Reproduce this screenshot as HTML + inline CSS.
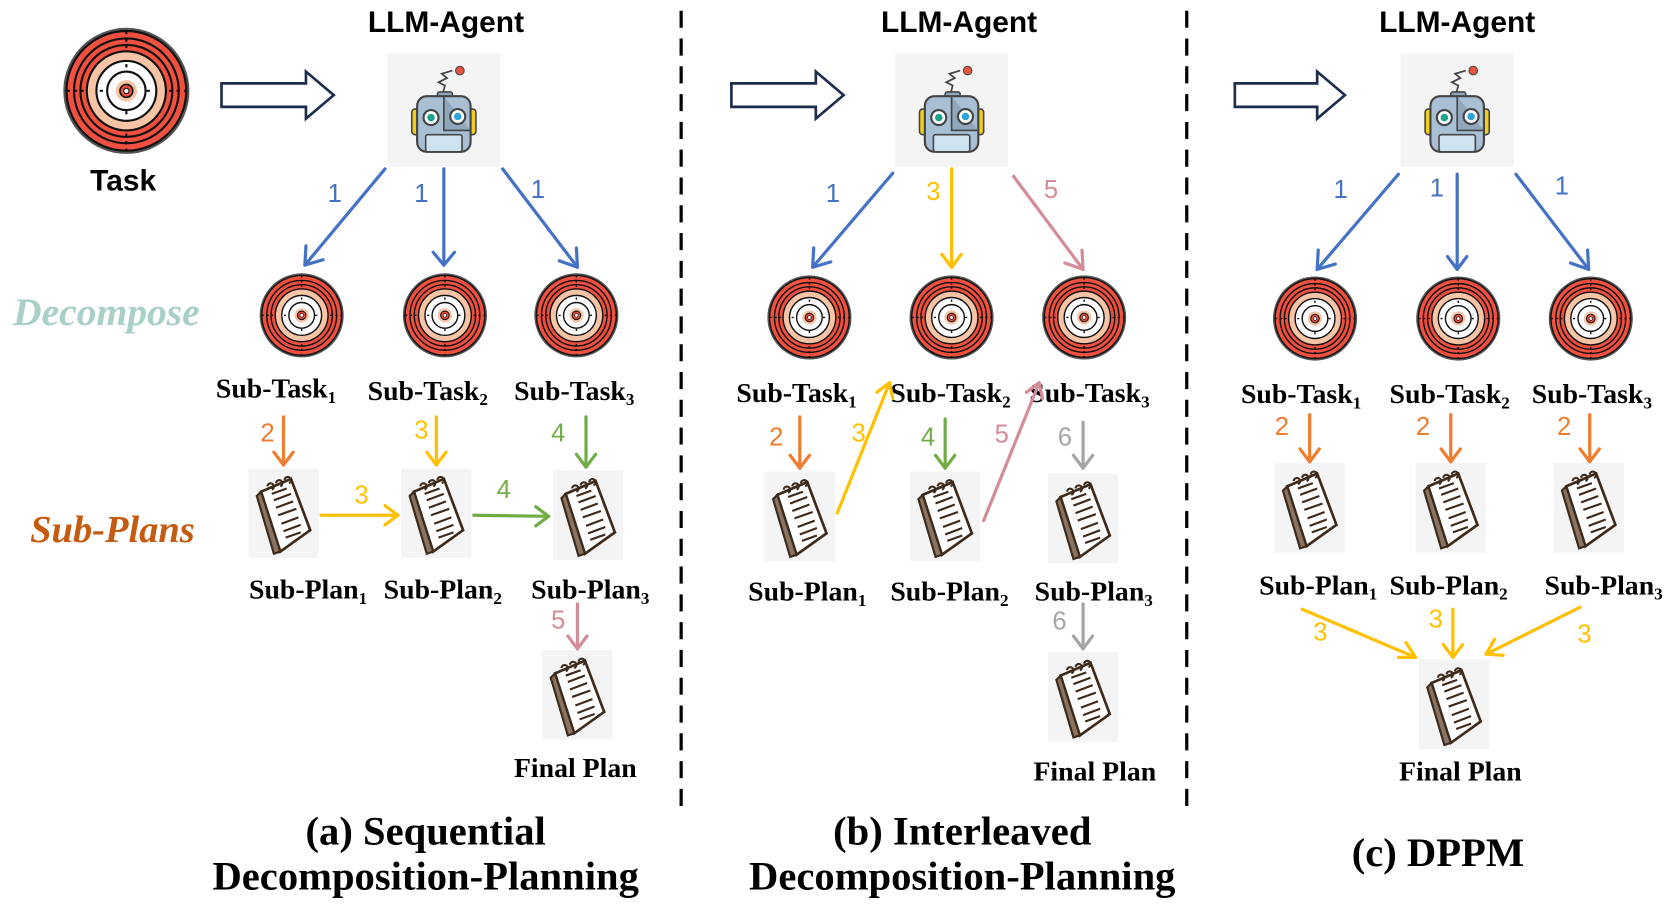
<!DOCTYPE html>
<html><head><meta charset="utf-8"><style>
html,body{margin:0;padding:0;background:#fff;}
svg{display:block;}
.sub{font-family:"Liberation Serif",serif;font-weight:bold;font-size:26px;fill:#000;text-anchor:middle;}
.num{font-family:"Liberation Sans",sans-serif;font-size:24px;text-anchor:middle;}
.hdr{font-family:"Liberation Sans",sans-serif;font-weight:bold;font-size:28px;text-anchor:middle;fill:#000;}
.ttl{font-family:"Liberation Serif",serif;font-weight:bold;font-size:38px;text-anchor:middle;fill:#000;}
</style></head><body>
<svg width="1668" height="915" viewBox="0 0 1560 856" xmlns="http://www.w3.org/2000/svg">
<defs>
<symbol id="tg" viewBox="-60 -60 120 120">
<circle r="59" fill="#555"/>
<circle r="56" fill="#f0503f" stroke="#111" stroke-width="2"/>
<circle r="49" fill="none" stroke="#111" stroke-width="2"/>
<circle r="43" fill="none" stroke="#111" stroke-width="2"/>
<circle r="37" fill="#f7c4a5" stroke="#111" stroke-width="2"/>
<circle r="28" fill="#fff" stroke="#111" stroke-width="2"/>
<circle r="18" fill="#fff" stroke="#111" stroke-width="2"/>
<circle r="10" fill="#f7c4a5"/>
<circle r="6" fill="#f0503f" stroke="#111" stroke-width="1.5"/>
<circle r="2.5" fill="#fff" stroke="#111" stroke-width="1"/>
<path d="M0 -56V-40M0 40V56M-56 0H-40M40 0H56M0 -25v6M0 19v6M-25 0h6M19 0h6" stroke="#111" stroke-width="2" stroke-dasharray="3 4"/>
</symbol>
<symbol id="np" viewBox="0 0 66 84">
<rect width="66" height="84" fill="#f4f4f4"/>
<path d="M12 22 L40 10 L58 58 L30 78 Z" fill="#fff" stroke="#3d2a1a" stroke-width="2.5"/>
<path d="M8 26 L12 22 L30 78 L24 80 Z" fill="#8a7360" stroke="#3d2a1a" stroke-width="2"/>
<path d="M22 24l14-5M24 30l16-6M26 37l16-6M28 44l17-6M31 52l16-6M33 59l16-6M35 65l14-5" stroke="#3d2a1a" stroke-width="2"/>
<path d="M18 17a3 3 0 1 1 4 3M26 14a3 3 0 1 1 4 3M34 11a3 3 0 1 1 4 3" fill="none" stroke="#3d2a1a" stroke-width="2"/>
</symbol>
<symbol id="rb" viewBox="0 0 106 106">
<rect width="106" height="106" fill="#f4f4f4"/>
<path d="M52 38 l2-8 -6-3 8-4 -5-4 10-3" fill="none" stroke="#444" stroke-width="1.6"/>
<circle cx="68" cy="16" r="4" fill="#e8553f" stroke="#444"/>
<rect x="47" y="36" width="14" height="6" rx="2" fill="#8fa6bb" stroke="#444" stroke-width="1.5"/>
<rect x="23" y="52" width="8" height="24" rx="3" fill="#f2cf1f" stroke="#444" stroke-width="1.5"/>
<rect x="75" y="52" width="8" height="24" rx="3" fill="#f2cf1f" stroke="#444" stroke-width="1.5"/>
<rect x="28" y="40" width="50" height="52" rx="9" fill="#a8bfd4" stroke="#444" stroke-width="2"/>
<path d="M53 40 V72 H78" fill="#8fa6bb" stroke="#444" stroke-width="1.5"/>
<circle cx="41" cy="60" r="7" fill="#fff" stroke="#444" stroke-width="2"/><circle cx="41" cy="60" r="3.5" fill="#1ba38c"/>
<circle cx="66" cy="59" r="7" fill="#fff" stroke="#444" stroke-width="2"/><circle cx="66" cy="59" r="3.5" fill="#2ea3d8"/>
<rect x="36" y="76" width="34" height="16" rx="2" fill="#cfe2ef" stroke="#444" stroke-width="1.5"/>
</symbol>
</defs>
<style>
.a{stroke-width:3;fill:none;}
.bl{stroke:#4472c4}.or{stroke:#ed7d31}.ye{stroke:#ffc000}.gr{stroke:#70ad47}.pk{stroke:#d48c98}.gy{stroke:#a5a5a5}
</style>
<g id="all">
<line x1="637" y1="10" x2="637" y2="762" stroke="#000" stroke-width="3" stroke-dasharray="16 10"/>
<line x1="1110" y1="10" x2="1110" y2="762" stroke="#000" stroke-width="3" stroke-dasharray="16 10"/>

<!-- Panel A -->
<use href="#tg" x="58" y="25" width="120" height="120"/>
<text class="hdr" x="115" y="178">Task</text>
<path d="M207 78H286V67L312 89L286 111V100H207Z" fill="#fff" stroke="#1f2d4d" stroke-width="2.5"/>
<text class="hdr" x="417" y="30">LLM-Agent</text>
<use href="#rb" x="362" y="50" width="106" height="106"/>
<text class="ttl" x="398" y="790">(a) Sequential</text>
<text class="ttl" x="398" y="832">Decomposition-Planning</text>
<text x="12" y="304" font-family="Liberation Serif,serif" font-style="italic" font-weight="bold" font-size="37" fill="#a8cfc8">Decompose</text>
<text x="28" y="507" font-family="Liberation Serif,serif" font-style="italic" font-weight="bold" font-size="36" fill="#c55a11">Sub-Plans</text>
<use href="#tg" x="242" y="255" width="80" height="80"/>
<use href="#tg" x="376" y="255" width="80" height="80"/>
<use href="#tg" x="499" y="255" width="80" height="80"/>
<text class="sub" x="258" y="372">Sub-Task<tspan font-size="16" dy="5">1</tspan></text>
<text class="sub" x="400" y="374">Sub-Task<tspan font-size="16" dy="5">2</tspan></text>
<text class="sub" x="537" y="374">Sub-Task<tspan font-size="16" dy="5">3</tspan></text>
<use href="#np" x="232" y="438" width="66" height="84"/>
<use href="#np" x="375" y="438" width="66" height="84"/>
<use href="#np" x="517" y="440" width="66" height="84"/>
<use href="#np" x="507" y="608" width="66" height="84"/>
<text class="sub" x="288" y="560">Sub-Plan<tspan font-size="16" dy="5">1</tspan></text>
<text class="sub" x="414" y="560">Sub-Plan<tspan font-size="16" dy="5">2</tspan></text>
<text class="sub" x="552" y="560">Sub-Plan<tspan font-size="16" dy="5">3</tspan></text>
<text class="sub" x="538" y="727">Final Plan</text>

<!-- Panel B -->
<path d="M684 78H763V67L789 89L763 111V100H684Z" fill="#fff" stroke="#1f2d4d" stroke-width="2.5"/>
<text class="hdr" x="897" y="30">LLM-Agent</text>
<use href="#rb" x="837" y="50" width="106" height="106"/>
<text class="ttl" x="900" y="790">(b) Interleaved</text>
<text class="ttl" x="900" y="832">Decomposition-Planning</text>
<use href="#tg" x="717" y="257" width="80" height="80"/>
<use href="#tg" x="850" y="257" width="80" height="80"/>
<use href="#tg" x="974" y="257" width="80" height="80"/>
<text class="sub" x="745" y="376">Sub-Task<tspan font-size="16" dy="5">1</tspan></text>
<text class="sub" x="889" y="376">Sub-Task<tspan font-size="16" dy="5">2</tspan></text>
<text class="sub" x="1019" y="376">Sub-Task<tspan font-size="16" dy="5">3</tspan></text>
<use href="#np" x="715" y="441" width="66" height="84"/>
<use href="#np" x="851" y="441" width="66" height="84"/>
<use href="#np" x="980" y="443" width="66" height="84"/>
<use href="#np" x="980" y="610" width="66" height="84"/>
<text class="sub" x="755" y="562">Sub-Plan<tspan font-size="16" dy="5">1</tspan></text>
<text class="sub" x="888" y="562">Sub-Plan<tspan font-size="16" dy="5">2</tspan></text>
<text class="sub" x="1023" y="562">Sub-Plan<tspan font-size="16" dy="5">3</tspan></text>
<text class="sub" x="1024" y="730">Final Plan</text>

<!-- Panel C -->
<path d="M1155 78H1232V67L1258 89L1232 111V100H1155Z" fill="#fff" stroke="#1f2d4d" stroke-width="2.5"/>
<text class="hdr" x="1363" y="30">LLM-Agent</text>
<use href="#rb" x="1310" y="50" width="106" height="106"/>
<text class="ttl" x="1345" y="810">(c) DPPM</text>
<use href="#tg" x="1190" y="258" width="80" height="80"/>
<use href="#tg" x="1324" y="258" width="80" height="80"/>
<use href="#tg" x="1448" y="258" width="80" height="80"/>
<text class="sub" x="1217" y="377">Sub-Task<tspan font-size="16" dy="5">1</tspan></text>
<text class="sub" x="1356" y="377">Sub-Task<tspan font-size="16" dy="5">2</tspan></text>
<text class="sub" x="1489" y="377">Sub-Task<tspan font-size="16" dy="5">3</tspan></text>
<use href="#np" x="1192" y="433" width="66" height="84"/>
<use href="#np" x="1324" y="433" width="66" height="84"/>
<use href="#np" x="1453" y="433" width="66" height="84"/>
<use href="#np" x="1327" y="617" width="66" height="84"/>
<text class="sub" x="1233" y="556">Sub-Plan<tspan font-size="16" dy="5">1</tspan></text>
<text class="sub" x="1355" y="556">Sub-Plan<tspan font-size="16" dy="5">2</tspan></text>
<text class="sub" x="1500" y="556">Sub-Plan<tspan font-size="16" dy="5">3</tspan></text>
<text class="sub" x="1366" y="730">Final Plan</text>
</g>

<g class="a" stroke-linecap="round" stroke-linejoin="round">
<g class="a bl"><path d="M360 158L285 248"/><path d="M286 230L285 248L302 243"/>
<path d="M415 158V248"/><path d="M405 236L415 248L425 236"/>
<path d="M470 158L540 250"/><path d="M523 244L540 250L539 232"/></g>
<g class="a or"><path d="M265 390V435"/><path d="M256 423L265 435L274 423"/></g>
<g class="a ye"><path d="M408 390V435"/><path d="M399 423L408 435L417 423"/>
<path d="M300 482H372"/><path d="M360 473L372 482L360 491"/></g>
<g class="a gr"><path d="M548 390V437"/><path d="M539 425L548 437L557 425"/>
<path d="M443 482L513 483"/><path d="M501 474L513 483L501 492"/></g>
<g class="a pk"><path d="M540 565V607"/><path d="M531 595L540 607L549 595"/></g>
<g class="a bl"><path d="M835 162L760 250"/><path d="M761 232L760 250L777 245"/></g>
<g class="a ye"><path d="M890 158V250"/><path d="M881 238L890 250L899 238"/>
<path d="M783 480L832 358"/><path d="M820 367L832 358L835 373"/></g>
<g class="a pk"><path d="M948 165L1013 252"/><path d="M996 246L1013 252L1012 234"/>
<path d="M920 487L972 358"/><path d="M960 367L972 358L975 373"/></g>
<g class="a or"><path d="M748 390V438"/><path d="M739 426L748 438L757 426"/></g>
<g class="a gr"><path d="M884 392V438"/><path d="M875 426L884 438L893 426"/></g>
<g class="a gy"><path d="M1013 395V438"/><path d="M1004 426L1013 438L1022 426"/>
<path d="M1013 565V607"/><path d="M1004 595L1013 607L1022 595"/></g>
<g class="a bl"><path d="M1308 163L1232 252"/><path d="M1233 234L1232 252L1249 247"/>
<path d="M1363 163V252"/><path d="M1354 240L1363 252L1372 240"/>
<path d="M1418 163L1486 252"/><path d="M1469 246L1486 252L1485 234"/></g>
<g class="a or"><path d="M1225 388V432"/><path d="M1216 420L1225 432L1234 420"/>
<path d="M1357 388V432"/><path d="M1348 420L1357 432L1366 420"/>
<path d="M1487 388V432"/><path d="M1478 420L1487 432L1496 420"/></g>
<g class="a ye"><path d="M1218 570L1324 615"/><path d="M1308 615L1324 615L1315 601"/>
<path d="M1359 570V615"/><path d="M1350 603L1359 615L1368 603"/>
<path d="M1478 568L1390 612"/><path d="M1398 598L1390 612L1406 613"/></g>
</g>

<g class="num">
<text x="313" y="189" fill="#4472c4">1</text><text x="394" y="189" fill="#4472c4">1</text><text x="503" y="185" fill="#4472c4">1</text>
<text x="250" y="413" fill="#ed7d31">2</text><text x="394" y="410" fill="#ffc000">3</text><text x="522" y="413" fill="#70ad47">4</text>
<text x="338" y="471" fill="#ffc000">3</text><text x="471" y="466" fill="#70ad47">4</text><text x="522" y="588" fill="#d48c98">5</text>
<text x="779" y="189" fill="#4472c4">1</text><text x="873" y="187" fill="#ffc000">3</text><text x="983" y="185" fill="#d48c98">5</text>
<text x="726" y="417" fill="#ed7d31">2</text><text x="803" y="413" fill="#ffc000">3</text><text x="868" y="417" fill="#70ad47">4</text>
<text x="937" y="414" fill="#d48c98">5</text><text x="996" y="417" fill="#a5a5a5">6</text><text x="991" y="589" fill="#a5a5a5">6</text>
<text x="1254" y="185" fill="#4472c4">1</text><text x="1344" y="184" fill="#4472c4">1</text><text x="1461" y="182" fill="#4472c4">1</text>
<text x="1199" y="407" fill="#ed7d31">2</text><text x="1331" y="407" fill="#ed7d31">2</text><text x="1463" y="407" fill="#ed7d31">2</text>
<text x="1235" y="599" fill="#ffc000">3</text><text x="1343" y="587" fill="#ffc000">3</text><text x="1482" y="601" fill="#ffc000">3</text>
</g>
</svg>
</body></html>
